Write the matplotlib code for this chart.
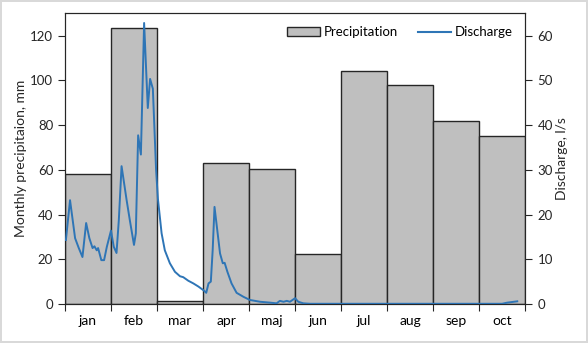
import numpy as np
import matplotlib.pyplot as plt
from matplotlib.patches import Patch
from matplotlib.lines import Line2D

plt.rcParams['font.family'] = ['Lato', 'DejaVu Sans']

months = ['jan', 'feb', 'mar', 'apr', 'maj', 'jun', 'jul', 'aug', 'sep', 'oct']
precip = [58, 123.5, 1.5, 63, 60.5, 22.5, 104, 98, 82, 75]

# discharge, position in month units (0 = start of jan)
dis_t = [0.02, 0.11, 0.22, 0.30, 0.38, 0.46, 0.53, 0.60, 0.64, 0.69, 0.72, 0.79,
         0.85, 0.91, 1.00, 1.06, 1.12, 1.17, 1.23, 1.34, 1.41, 1.50, 1.54, 1.59,
         1.65, 1.72, 1.80, 1.85, 1.91, 1.98, 2.02, 2.10, 2.17, 2.28, 2.39, 2.50,
         2.57, 2.68, 2.79, 2.90, 3.02, 3.07, 3.12, 3.17, 3.21, 3.25, 3.31, 3.37,
         3.43, 3.47, 3.53, 3.62, 3.73, 3.88, 4.02, 4.24, 4.46, 4.60, 4.67, 4.75,
         4.82, 4.89, 5.00, 5.07, 5.18, 5.33, 6.00, 7.00, 8.00, 9.00, 9.50, 9.61, 9.83]
dis_q = [14.3, 23.2, 14.7, 12.5, 10.5, 18.1, 14.7, 12.5, 12.9, 12.0, 12.5, 9.8,
         9.8, 12.8, 16.4, 12.8, 11.4, 18.7, 30.8, 23.2, 18.7, 13.2, 15.8, 37.7,
         33.4, 62.8, 43.8, 50.3, 48.1, 30.0, 23.5, 15.8, 12.0, 9.1, 7.2, 6.2,
         6.0, 5.2, 4.6, 3.9, 3.0, 2.5, 4.6, 5.0, 12.0, 21.7, 16.5, 11.3,
         9.1, 9.2, 7.2, 4.6, 2.5, 1.6, 0.9, 0.5, 0.3, 0.15, 0.7, 0.5,
         0.7, 0.5, 1.3, 0.5, 0.15, 0.05, 0.05, 0.05, 0.05, 0.05, 0.05, 0.3, 0.6]

bar_col = '#BFBFBF'
line_col = '#2E75B6'

fig = plt.figure(figsize=(5.88, 3.43), dpi=100)
fig.patch.set_edgecolor('#D9D9D9')
fig.patch.set_linewidth(1.5)
ax = fig.add_axes([0.1105, 0.1137, 0.7825, 0.848])

x = np.arange(len(months)) + 0.5
ax.bar(x, precip, width=1.0, color=bar_col, edgecolor='#262626', linewidth=1.0, zorder=2)
ax.set_xlim(0, len(months))
ax.set_ylim(0, 130)
ax.set_yticks(np.arange(0, 121, 20))
ax.set_xticks(np.arange(0, len(months) + 1))
ax.set_xticklabels([])
ax.set_xticks(x, minor=True)
ax.set_xticklabels(months, minor=True)
ax.tick_params(axis='x', which='minor', length=0, pad=8)
ax.tick_params(axis='x', which='major', length=5, direction='out')
ax.tick_params(axis='y', length=5, direction='out')
ax.tick_params(labelsize=9.5, colors='#262626')
ax.set_ylabel('Monthly precipitaion, mm', fontsize=10, color='#262626', labelpad=2)
for s in ax.spines.values():
    s.set_color('#262626')

ax2 = ax.twinx()
ax2.plot(dis_t, dis_q, color=line_col, linewidth=1.4, zorder=3)
ax2.set_ylim(0, 65)
ax2.set_yticks(np.arange(0, 61, 10))
ax2.tick_params(axis='y', length=5, direction='out', labelsize=9.5, colors='#262626', pad=4)
ax2.set_ylabel('Discharge, l/s', fontsize=10, color='#262626', labelpad=2)
for s in ax2.spines.values():
    s.set_color('#262626')

handles = [Patch(facecolor=bar_col, edgecolor='#262626', label='Precipitation'),
           Line2D([0], [0], color=line_col, linewidth=1.5, label='Discharge')]
ax2.legend(handles=handles, loc='upper right', ncol=2, frameon=False, fontsize=9.5,
           handlelength=2.5, handletextpad=0.3, columnspacing=1.5,
           bbox_to_anchor=(1.0, 0.995))

fig.savefig('out.png', dpi=100)
